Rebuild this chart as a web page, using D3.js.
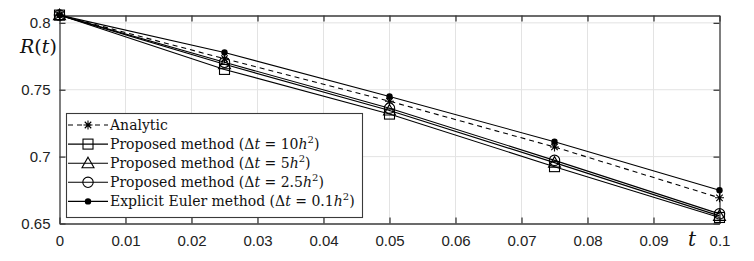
<!DOCTYPE html>
<html>
<head>
<meta charset="utf-8">
<script src="https://cdn.jsdelivr.net/npm/d3@7"></script>
<style>
  body { margin: 0; background: #fff; }
  svg { display: block; }
  .tick text { font-family: "Liberation Sans", Arial, sans-serif; font-size: 15px; fill: #222; }
  .serif { font-family: "DejaVu Serif"; }
</style>
</head>
<body>
<div id="chart"></div>
<script>
"use strict";

// time points
var tValues = [0, 0.025, 0.05, 0.075, 0.1];

// series values
var analytic  = [0.8058, 0.7732, 0.7414, 0.7072, 0.6692];
var prop10    = [0.8058, 0.7652, 0.7318, 0.6925, 0.6545];
var prop5     = [0.8058, 0.7690, 0.7345, 0.6955, 0.6557];
var prop25    = [0.8058, 0.7705, 0.7362, 0.6972, 0.6572];
var euler     = [0.8058, 0.7778, 0.7450, 0.7111, 0.6749];

var xTicks = [0, 0.01, 0.02, 0.03, 0.04, 0.05, 0.06, 0.07, 0.08, 0.09, 0.1];
var yTicks = [0.65, 0.7, 0.75, 0.8];

var seriesNames = ["Analytic", "10", "5", "2.5", "0.1"];

var width = 754, height = 261;
var svg = d3.select("#chart").append("svg").attr("width", width).attr("height", height);

var x = d3.scaleLinear().domain([0, 0.1]).range([59.5, 719.5]);
var y = d3.scaleLinear().domain([0.65, 0.8055]).range([223.5, 15.5]);

var fmt = function(d){ return d === 0 ? "0" : d3.format(".2~f")(d); };

///////////////////////////////////////
// grid
svg.append("g").selectAll("line").data(xTicks.slice(1, -1)).join("line")
	.attr("x1", x).attr("x2", x).attr("y1", y.range()[0]).attr("y2", y.range()[1])
	.attr("stroke", "#e3e3e3").attr("stroke-width", 1);
svg.append("g").selectAll("line").data(yTicks.slice(1)).join("line")
	.attr("y1", y).attr("y2", y).attr("x1", x.range()[0]).attr("x2", x.range()[1])
	.attr("stroke", "#e3e3e3").attr("stroke-width", 1);

///////////////////////////////////////
// axes (inward ticks, boxed)
function styleAxis(g){
	g.select(".domain").attr("stroke", "#3a3a3a").attr("stroke-width", 1.3);
	g.selectAll(".tick line").attr("stroke", "#3a3a3a").attr("stroke-width", 1.3);
}
svg.append("g").attr("transform", "translate(0," + y.range()[0] + ")")
	.call(d3.axisBottom(x).tickValues(xTicks).tickFormat(fmt).tickSizeInner(-6).tickSizeOuter(0).tickPadding(12))
	.call(styleAxis);
svg.append("g").attr("transform", "translate(0," + y.range()[1] + ")")
	.call(d3.axisTop(x).tickValues(xTicks).tickFormat("").tickSizeInner(-6).tickSizeOuter(0))
	.call(styleAxis);
svg.append("g").attr("transform", "translate(" + x.range()[0] + ",0)")
	.call(d3.axisLeft(y).tickValues(yTicks).tickFormat(fmt).tickSizeInner(-6).tickSizeOuter(0).tickPadding(9))
	.call(styleAxis);
svg.append("g").attr("transform", "translate(" + x.range()[1] + ",0)")
	.call(d3.axisRight(y).tickValues(yTicks).tickFormat("").tickSizeInner(-6).tickSizeOuter(0))
	.call(styleAxis);

// axis labels
var ylab = svg.append("text").attr("class", "serif").attr("x", 20).attr("y", 53)
	.attr("font-size", 19).attr("fill", "#111");
ylab.append("tspan").attr("font-style", "italic").text("R");
ylab.append("tspan").text("(");
ylab.append("tspan").attr("font-style", "italic").text("t");
ylab.append("tspan").text(")");
svg.append("text").attr("class", "serif").attr("x", 688).attr("y", 246)
	.attr("font-size", 20).attr("font-style", "italic").attr("fill", "#111").text("t");

///////////////////////////////////////
// markers
function marker(g, kind, cx, cy){
	var s = 4.5;
	if (kind === "star"){
		g.append("path").attr("d",
			"M" + (cx - s) + "," + cy + "H" + (cx + s) +
			"M" + cx + "," + (cy - s) + "V" + (cy + s) +
			"M" + (cx - s * 0.72) + "," + (cy - s * 0.72) + "L" + (cx + s * 0.72) + "," + (cy + s * 0.72) +
			"M" + (cx - s * 0.72) + "," + (cy + s * 0.72) + "L" + (cx + s * 0.72) + "," + (cy - s * 0.72))
			.attr("stroke", "#000").attr("stroke-width", 1.1).attr("fill", "none");
	} else if (kind === "square"){
		g.append("rect").attr("x", cx - 5).attr("y", cy - 5).attr("width", 10).attr("height", 10)
			.attr("stroke", "#000").attr("stroke-width", 1.1).attr("fill", "none");
	} else if (kind === "triangle"){
		g.append("path").attr("d", "M" + cx + "," + (cy - 6) + "L" + (cx + 6) + "," + (cy + 4.5) + "L" + (cx - 6) + "," + (cy + 4.5) + "Z")
			.attr("stroke", "#000").attr("stroke-width", 1.1).attr("fill", "none");
	} else if (kind === "circle"){
		g.append("circle").attr("cx", cx).attr("cy", cy).attr("r", 5.2)
			.attr("stroke", "#000").attr("stroke-width", 1.1).attr("fill", "none");
	} else if (kind === "dot"){
		g.append("circle").attr("cx", cx).attr("cy", cy).attr("r", 3.2).attr("fill", "#000");
	}
}

var series = [
	{name: seriesNames[0], values: analytic, kind: "star", dash: "5,4"},
	{name: seriesNames[1], values: prop10, kind: "square", dash: null},
	{name: seriesNames[2], values: prop5, kind: "triangle", dash: null},
	{name: seriesNames[3], values: prop25, kind: "circle", dash: null},
	{name: seriesNames[4], values: euler, kind: "dot", dash: null}
];

var line = d3.line().x(function(d, i){ return x(tValues[i]); }).y(function(d){ return y(d); });

series.forEach(function(s){
	var g = svg.append("g");
	g.append("path").attr("d", line(s.values)).attr("fill", "none")
		.attr("stroke", "#000").attr("stroke-width", 1.1)
		.attr("stroke-dasharray", s.dash);
	s.values.forEach(function(v, i){ marker(g, s.kind, x(tValues[i]), y(v)); });
});

///////////////////////////////////////
// legend
var lg = svg.append("g");
lg.append("rect").attr("x", 66.5).attr("y", 113.5).attr("width", 296).attr("height", 104)
	.attr("fill", "#fff").attr("stroke", "#3a3a3a").attr("stroke-width", 1.1);

series.forEach(function(s, i){
	var ly = 125 + i * 19.1;
	lg.append("line").attr("x1", 68).attr("x2", 108).attr("y1", ly).attr("y2", ly)
		.attr("stroke", "#000").attr("stroke-width", 1.1).attr("stroke-dasharray", s.dash);
	marker(lg, s.kind, 88, ly);
	var t = lg.append("text").attr("class", "serif").attr("x", 110).attr("y", ly + 5)
		.attr("font-size", 14).attr("fill", "#111");
	if (i === 0){ t.text("Analytic"); return; }
	t.append("tspan").text((i === 4 ? "Explicit Euler method" : "Proposed method") + " (\u0394");
	t.append("tspan").attr("font-style", "italic").text("t");
	t.append("tspan").text(" = " + s.name);
	t.append("tspan").attr("font-style", "italic").text("h");
	t.append("tspan").attr("font-size", 10).attr("dy", -6).text("2");
	t.append("tspan").attr("dy", 6).text(")");
});
</script>
</body>
</html>
